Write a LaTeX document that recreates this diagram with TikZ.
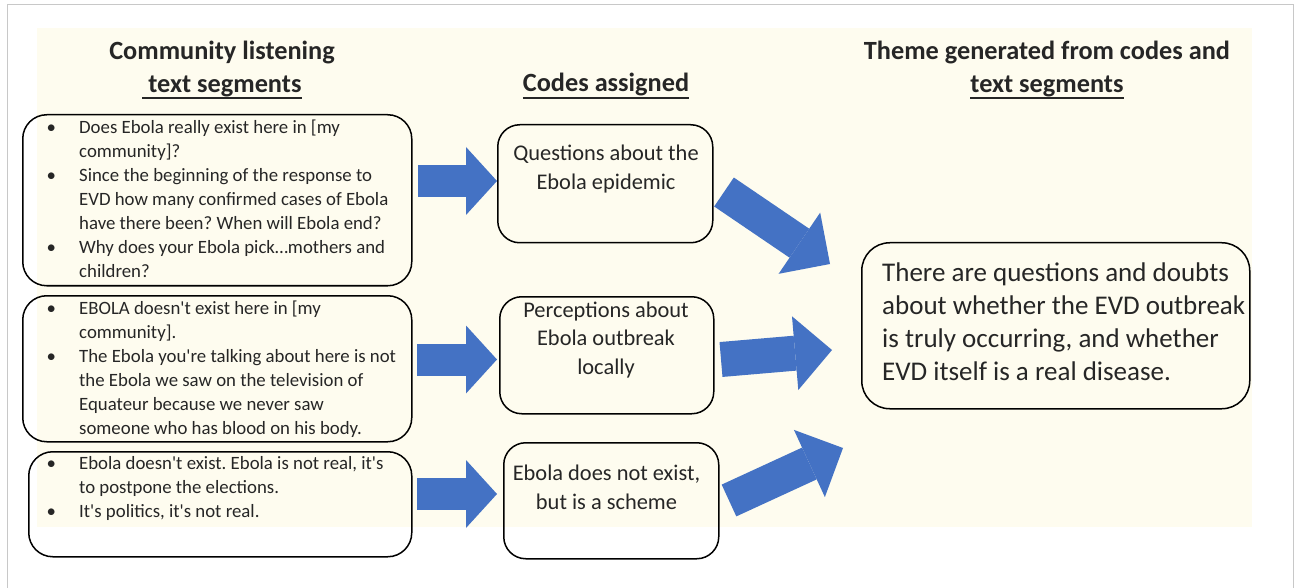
\documentclass[tikz,border=0pt]{standalone}
\usepackage{fontspec}
\setmainfont{Carlito}
\usetikzlibrary{arrows.meta}
\definecolor{cream}{HTML}{FEFCEF}
\definecolor{framegray}{HTML}{C8C8C8}
\definecolor{arrowblue}{HTML}{4472C4}
\definecolor{ink}{HTML}{262626}
\newcommand\myul[1]{\setbox0\hbox{#1}\rlap{\rule[-7pt]{\wd0}{1.8pt}}\box0}
\newcommand\ap{\textquotesingle}
\frenchspacing
\begin{document}
\begin{tikzpicture}[x=1pt,y=-1pt,
  box/.style={draw=black, line width=1.5pt, inner sep=0pt, anchor=north west},
  txt/.style={inner sep=0pt, text=ink},
  listfont/.style={font=\fontsize{18.8}{24}\selectfont},
  codefont/.style={font=\fontsize{22.4}{28.7}\selectfont},
  headfont/.style={font=\fontsize{26.3}{33}\selectfont\bfseries},
  themefont/.style={font=\fontsize{27}{33}\selectfont},
  harrow/.style={draw=arrowblue, line width=32pt, -{Triangle[width=68pt,length=31pt,line width=0pt]}},
  darrow/.style={draw=arrowblue, line width=35pt, -{Triangle[width=74pt,length=37pt,line width=0pt]}}]
\useasboundingbox (0,0) rectangle (1299,588);
\fill[cream] (37,28) rectangle (1252,527);
\draw[framegray, line width=1pt] (7,588) -- (7,5) -- (1293,5) -- (1293,588);

% boxes
\node[box, rounded corners=24pt, minimum width=389pt, minimum height=171pt] (L1) at (22,114) {};
\node[box, rounded corners=24pt, minimum width=389pt, minimum height=146pt] (L2) at (22,295) {};
\node[box, rounded corners=24pt, minimum width=383pt, minimum height=105pt] (L3) at (28,451) {};
\node[box, rounded corners=22pt, minimum width=215pt, minimum height=118pt] (M1) at (497,124) {};
\node[box, rounded corners=22pt, minimum width=214pt, minimum height=117pt] (M2) at (499,296) {};
\node[box, rounded corners=22pt, minimum width=215pt, minimum height=116pt] (M3) at (503,442) {};
\node[box, rounded corners=28pt, minimum width=388pt, minimum height=166pt] (T) at (861,242) {};

% headings
\node[txt, headfont, anchor=north] (h1) at (222,36) {\begin{tabular}{@{}c@{}}Community listening\\\myul{\ text segments}\end{tabular}};
\node[txt, headfont, anchor=base] (h2) at (606,92) {\myul{Codes assigned}};
\node[txt, headfont, anchor=north] (h3) at (1047,36) {\begin{tabular}{@{}c@{}}Theme generated from codes and\\\myul{text segments}\end{tabular}};

% text segments
\node[txt, listfont, anchor=north west] (l1t) at (46.5,116.2) {\begin{tabular}{@{}p{32.5pt}@{}l@{}}
\textbullet & Does Ebola really exist here in [my\\
 & community]?\\
\textbullet & Since the beginning of the response to\\
 & EVD how many confirmed cases of Ebola\\
 & have there been? When will Ebola end?\\
\textbullet & Why does your Ebola pick…mothers and\\
 & children?\end{tabular}};
\node[txt, listfont, anchor=north west] (l2t) at (46.5,297.2) {\begin{tabular}{@{}p{32.5pt}@{}l@{}}
\textbullet & EBOLA doesn\ap t exist here in [my\\
 & community].\\
\textbullet & The Ebola you\ap re talking about here is not\\
 & the Ebola we saw on the television of\\
 & Equateur because we never saw\\
 & someone who has blood on his body.\end{tabular}};
\node[txt, listfont, anchor=north west] (l3t) at (46.5,452.2) {\begin{tabular}{@{}p{32.5pt}@{}l@{}}
\textbullet & Ebola doesn\ap t exist. Ebola is not real, it\ap s\\
 & to postpone the elections.\\
\textbullet & It\ap s politics, it\ap s not real.\end{tabular}};

% codes
\node[txt, codefont, anchor=north] (m1t) at (606,140.7) {\begin{tabular}{@{}c@{}}Questions about the\\Ebola epidemic\end{tabular}};
\node[txt, codefont, anchor=north] (m2t) at (606,297) {\begin{tabular}{@{}c@{}}Perceptions about\\Ebola outbreak\\locally\end{tabular}};
\node[txt, codefont, anchor=north] (m3t) at (606.5,460.4) {\begin{tabular}{@{}c@{}}Ebola does not exist,\\but is a scheme\end{tabular}};

% theme
\node[txt, themefont, anchor=north west] (tt) at (882,257.9) {\begin{tabular}{@{}l@{}}There are questions and doubts\\about whether the EVD outbreak\\is truly occurring, and whether\\EVD itself is a real disease.\end{tabular}};

% arrows
\coordinate (a1s) at (418,181);
\coordinate (a2s) at (417,359.5);
\coordinate (a3s) at (417,494);
\draw[harrow] (a1s) -- (M1.west |- a1s);
\draw[harrow, shorten >=2pt] (a2s) -- (M2.west |- a2s);
\draw[harrow, shorten >=6pt] (a3s) -- (M3.west |- a3s);
\coordinate (d1s) at (724,192);
\coordinate (d1e) at (830,264);
\coordinate (d2s) at (721,359.5);
\coordinate (d2e) at (832,350);
\coordinate (d3s) at (729,500.5);
\coordinate (d3e) at (843,448);
\draw[darrow] (d1s) -- (d1e);
\draw[darrow] (d2s) -- (d2e);
\draw[darrow] (d3s) -- (d3e);
\end{tikzpicture}
\end{document}
